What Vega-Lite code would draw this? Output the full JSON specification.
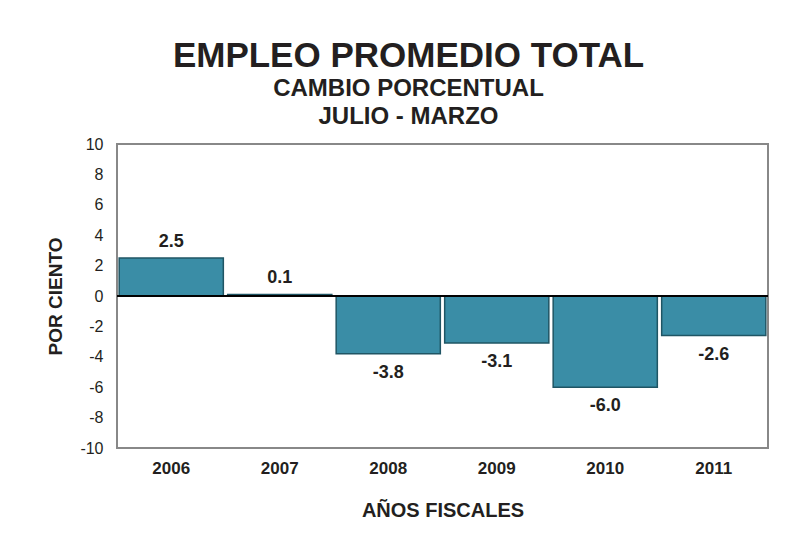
{
  "$schema": "https://vega.github.io/schema/vega-lite/v6.json",
  "autosize": "none",
  "width": 651,
  "height": 304,
  "padding": {"left": 117, "top": 144, "right": 41, "bottom": 97},
  "background": "white",
  "title": {
    "text": "EMPLEO PROMEDIO TOTAL",
    "subtitle": ["CAMBIO PORCENTUAL", "JULIO - MARZO"],
    "font": "Liberation Sans",
    "fontSize": 35,
    "fontWeight": "bold",
    "color": "#231F20",
    "subtitleFont": "Liberation Sans",
    "subtitleFontSize": 24,
    "subtitleFontWeight": "bold",
    "subtitleColor": "#231F20",
    "subtitleLineHeight": 28,
    "subtitlePadding": 3,
    "anchor": "middle",
    "frame": "group",
    "dx": -34,
    "offset": 7
  },
  "data": {
    "values": [
      {"year": "2006", "value": 2.5, "label": "2.5"},
      {"year": "2007", "value": 0.1, "label": "0.1"},
      {"year": "2008", "value": -3.8, "label": "-3.8"},
      {"year": "2009", "value": -3.1, "label": "-3.1"},
      {"year": "2010", "value": -6.0, "label": "-6.0"},
      {"year": "2011", "value": -2.6, "label": "-2.6"}
    ]
  },
  "encoding": {
    "x": {
      "field": "year",
      "type": "ordinal",
      "scale": {"paddingInner": 0.04, "paddingOuter": 0.02},
      "axis": {
        "title": "AÑOS FISCALES",
        "labelAngle": 0,
        "labelFont": "Liberation Sans",
        "labelFontSize": 17,
        "labelFontWeight": "bold",
        "labelColor": "#231F20",
        "labelPadding": 12,
        "ticks": false,
        "domain": false,
        "titleFont": "Liberation Sans",
        "titleFontSize": 20,
        "titleFontWeight": "bold",
        "titleColor": "#231F20",
        "titlePadding": 24
      }
    },
    "y": {
      "field": "value",
      "type": "quantitative",
      "scale": {"domain": [-10, 10], "nice": false},
      "axis": {
        "title": "POR CIENTO",
        "values": [-10, -8, -6, -4, -2, 0, 2, 4, 6, 8, 10],
        "labelExpr": "replace(datum.label, '−', '-')",
        "labelOverlap": false,
        "grid": false,
        "ticks": false,
        "domain": false,
        "labelFont": "Liberation Sans",
        "labelFontSize": 16,
        "labelColor": "#231F20",
        "labelPadding": 14,
        "titleFont": "Liberation Sans",
        "titleFontSize": 19,
        "titleFontWeight": "bold",
        "titleColor": "#231F20",
        "titlePadding": 14
      }
    }
  },
  "layer": [
    {
      "mark": {"type": "bar", "color": "#3A8DA6", "stroke": "#1F5564", "strokeWidth": 1.5}
    },
    {
      "mark": {"type": "rule", "color": "#000000", "strokeWidth": 1},
      "encoding": {"y": {"datum": 0}, "x": {"value": 0}, "x2": {"value": "width"}}
    },
    {
      "transform": [{"filter": "datum.value >= 0"}],
      "mark": {"type": "text", "dy": -16, "font": "Liberation Sans", "fontSize": 18, "fontWeight": "bold", "color": "#231F20"},
      "encoding": {
        "text": {"field": "label", "type": "nominal"}
      }
    },
    {
      "transform": [{"filter": "datum.value < 0"}],
      "mark": {"type": "text", "dy": 19, "font": "Liberation Sans", "fontSize": 18, "fontWeight": "bold", "color": "#231F20"},
      "encoding": {
        "text": {"field": "label", "type": "nominal"}
      }
    }
  ],
  "config": {
    "view": {"stroke": "#888888", "strokeWidth": 2}
  }
}
